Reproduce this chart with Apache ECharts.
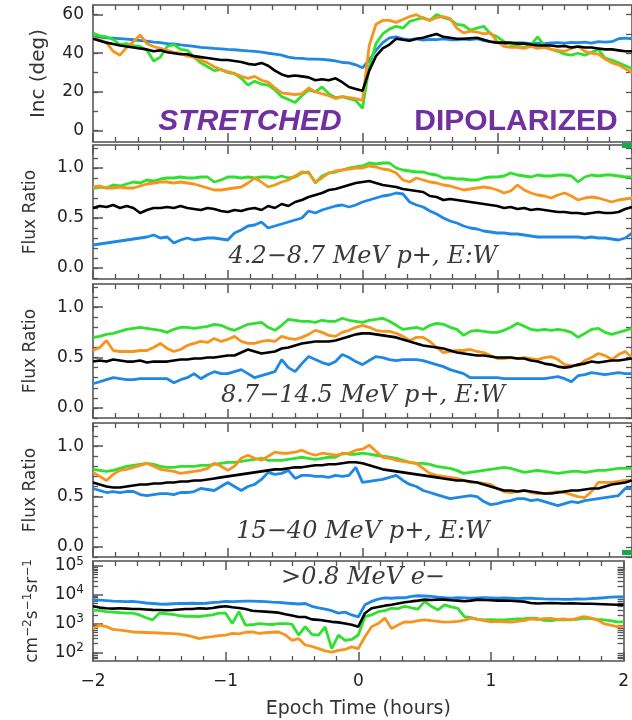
<!DOCTYPE html>
<html lang="en">
<head>
<meta charset="UTF-8">
<title>Epoch analysis</title>
<script src="https://cdn.jsdelivr.net/npm/echarts@6/dist/echarts.min.js"></script>
<style>
    html, body { margin: 0; padding: 0; background: #fff; }
    #container { width: 632px; height: 720px; }
</style>
</head>
<body>
<div id="container"></div>
<script>
// epoch time grid, hours, step 0.05
var hours = [];
for (var i = 0; i <= 80; i++) hours.push(+(-2 + i * 0.05).toFixed(2));

// inclination (deg)
var incBlue = [48.5,48.3,48.0,47.8,47.6,47.3,47.0,46.6,46.3,45.8, 45.5,45.0,44.8,44.3,44.0,43.6,43.0,42.8,42.5,42.3,
    42.0,41.8,41.5,41.2,41.0,40.6,40.0,39.5,39.0,38.0, 37.5,37.3,37.0,37.0,36.8,36.5,36.0,35.2,35.0,34.0,
    32.5,36.5,41.5,45.5,48.0,48.5,47.5,47.0,47.5,46.8, 47.2,47.0,47.5,47.0,47.0,47.3,47.0,47.5,46.5,46.0,
    45.5,45.0,45.0,45.5,45.3,45.0,45.2,45.0,45.3,45.5, 45.2,45.6,45.5,45.8,45.3,46.0,45.8,46.0,47.5,47.8, 47.5];
var incGreen = [50.5,49.0,48.5,47.0,44.5,45.0,44.0,43.5,41.5,36.0, 38.0,43.5,44.5,42.0,41.5,38.0,35.0,33.0,31.0,31.5,
    30.0,29.5,27.0,23.5,25.5,24.0,23.5,21.0,17.5,16.0, 14.5,18.0,21.0,20.0,22.5,19.0,17.0,17.5,16.5,15.5,
    11.5,33.0,45.0,50.0,52.5,54.0,53.0,56.5,57.5,58.5, 57.0,60.0,58.5,57.5,55.0,54.5,52.0,53.0,54.0,50.0,
    48.5,46.0,44.5,43.5,43.0,44.5,48.5,44.0,42.0,41.0, 39.5,39.0,40.0,39.0,40.5,42.0,37.5,36.5,35.0,33.5, 32.0];
var incOrange = [48.0,47.0,45.5,41.0,39.0,43.0,46.0,49.5,45.0,43.5, 42.5,41.5,40.5,40.0,38.5,38.0,36.5,35.0,33.0,31.5,
    30.5,29.5,28.0,27.0,28.0,26.0,25.0,22.0,19.5,19.0, 18.5,19.0,22.0,20.0,19.0,18.0,16.5,17.5,17.0,16.5,
    15.5,44.0,55.0,57.0,57.0,56.0,57.5,59.0,60.0,58.0, 57.0,58.5,59.0,58.0,53.0,50.5,51.5,51.0,50.0,50.5,
    46.0,43.5,43.0,43.0,42.5,43.5,42.5,43.0,42.0,41.5, 41.0,42.5,43.5,41.0,40.0,39.5,37.0,35.0,34.0,32.0, 30.0];
var incBlack = [47.5,46.5,45.5,44.8,44.0,43.5,43.0,42.5,42.0,41.0, 41.5,40.5,40.0,39.5,39.5,38.5,38.0,37.5,37.0,36.5,
    36.5,36.0,35.5,34.5,34.0,35.0,33.5,31.0,29.0,28.0, 28.5,28.0,27.5,26.0,26.5,26.0,27.0,25.0,22.5,21.5,
    20.5,31.0,38.5,42.5,44.5,47.5,47.0,46.5,47.5,48.0, 49.0,50.0,48.5,48.0,47.5,47.5,47.8,48.0,47.0,46.0,
    45.5,45.5,45.5,45.0,45.0,44.5,44.0,44.0,44.0,43.5, 43.8,43.0,43.5,43.0,43.0,42.5,42.0,42.0,41.5,41.0, 41.0];

// flux ratio E:W, 4.2-8.7 MeV p+
var lowBlue = [0.23,0.24,0.25,0.26,0.27,0.28,0.29,0.30,0.31,0.33, 0.30,0.31,0.25,0.28,0.30,0.28,0.29,0.30,0.30,0.29,
    0.28,0.35,0.38,0.42,0.43,0.46,0.40,0.42,0.44,0.46, 0.48,0.50,0.57,0.55,0.58,0.60,0.62,0.63,0.61,0.63,
    0.66,0.68,0.70,0.72,0.73,0.75,0.74,0.66,0.63,0.61, 0.57,0.54,0.50,0.47,0.45,0.42,0.40,0.39,0.37,0.36,
    0.35,0.35,0.34,0.34,0.33,0.32,0.31,0.31,0.31,0.31, 0.31,0.31,0.31,0.30,0.31,0.30,0.30,0.29,0.28,0.30, 0.35];
var lowGreen = [0.80,0.81,0.80,0.83,0.82,0.84,0.86,0.85,0.88,0.87, 0.89,0.90,0.90,0.91,0.90,0.90,0.91,0.91,0.86,0.88,
    0.91,0.91,0.90,0.91,0.90,0.91,0.91,0.90,0.92,0.90, 0.91,0.95,0.96,0.85,0.92,0.95,0.96,0.98,1.00,1.01,
    1.02,1.05,1.04,1.05,1.05,1.00,0.98,0.97,0.96,0.96, 0.94,0.93,0.90,0.90,0.89,0.89,0.88,0.88,0.90,0.91,
    0.91,0.92,0.95,0.93,0.92,0.91,0.93,0.92,0.92,0.93, 0.93,0.92,0.86,0.91,0.93,0.92,0.93,0.93,0.92,0.91, 0.91];
var lowOrange = [0.81,0.82,0.80,0.80,0.81,0.80,0.80,0.82,0.84,0.85, 0.86,0.86,0.85,0.86,0.85,0.84,0.82,0.80,0.78,0.78,
    0.79,0.80,0.81,0.85,0.90,0.86,0.81,0.83,0.86,0.88, 0.92,0.96,0.95,0.86,0.90,0.95,0.97,0.98,0.99,1.00,
    1.00,1.02,1.01,0.99,0.98,0.95,0.88,0.86,0.90,0.88, 0.86,0.85,0.83,0.82,0.80,0.78,0.79,0.80,0.81,0.80,
    0.78,0.75,0.77,0.83,0.78,0.75,0.73,0.72,0.70,0.73, 0.75,0.72,0.68,0.70,0.71,0.70,0.68,0.66,0.68,0.69, 0.70];
var lowBlack = [0.60,0.62,0.61,0.63,0.60,0.62,0.60,0.55,0.58,0.60, 0.60,0.61,0.60,0.62,0.60,0.59,0.58,0.60,0.59,0.57,
    0.56,0.58,0.57,0.59,0.60,0.58,0.62,0.60,0.64,0.62, 0.66,0.68,0.71,0.73,0.75,0.78,0.79,0.81,0.83,0.85,
    0.86,0.87,0.85,0.83,0.82,0.81,0.79,0.78,0.77,0.76, 0.72,0.71,0.68,0.69,0.68,0.67,0.66,0.65,0.64,0.63,
    0.62,0.60,0.61,0.59,0.60,0.58,0.59,0.58,0.57,0.56, 0.56,0.55,0.55,0.54,0.55,0.56,0.55,0.55,0.56,0.59, 0.61];

// 8.7-14.5 MeV p+
var midBlue = [0.24,0.26,0.28,0.30,0.29,0.28,0.28,0.29,0.29,0.29, 0.29,0.29,0.25,0.28,0.30,0.34,0.29,0.33,0.36,0.34,
    0.34,0.36,0.38,0.34,0.30,0.32,0.34,0.36,0.48,0.40, 0.36,0.44,0.51,0.48,0.45,0.43,0.46,0.53,0.50,0.46,
    0.43,0.47,0.51,0.50,0.48,0.47,0.48,0.48,0.48,0.47, 0.45,0.43,0.41,0.38,0.36,0.34,0.30,0.30,0.30,0.30,
    0.30,0.29,0.29,0.29,0.29,0.29,0.29,0.29,0.30,0.31, 0.29,0.26,0.32,0.33,0.35,0.34,0.33,0.34,0.35,0.34, 0.34];
var midGreen = [0.70,0.71,0.73,0.74,0.76,0.78,0.79,0.80,0.79,0.78, 0.77,0.75,0.78,0.80,0.80,0.79,0.80,0.81,0.83,0.82,
    0.79,0.77,0.80,0.83,0.84,0.85,0.80,0.77,0.82,0.88, 0.87,0.86,0.86,0.85,0.87,0.86,0.86,0.89,0.87,0.86,
    0.85,0.87,0.88,0.89,0.86,0.82,0.78,0.79,0.80,0.78, 0.82,0.84,0.83,0.80,0.78,0.72,0.76,0.77,0.76,0.75,
    0.75,0.77,0.80,0.84,0.81,0.78,0.77,0.78,0.77,0.78, 0.77,0.75,0.70,0.74,0.78,0.79,0.75,0.73,0.75,0.77, 0.79];
var midOrange = [0.57,0.60,0.67,0.57,0.56,0.56,0.56,0.57,0.57,0.60, 0.64,0.59,0.56,0.58,0.62,0.64,0.66,0.65,0.69,0.66,
    0.68,0.71,0.66,0.64,0.64,0.66,0.67,0.66,0.71,0.69, 0.68,0.70,0.73,0.77,0.75,0.72,0.71,0.75,0.77,0.80,
    0.82,0.80,0.77,0.76,0.76,0.74,0.71,0.67,0.70,0.70, 0.66,0.60,0.55,0.56,0.57,0.57,0.58,0.56,0.55,0.52,
    0.49,0.49,0.50,0.49,0.50,0.49,0.48,0.50,0.51,0.48, 0.43,0.42,0.42,0.47,0.50,0.54,0.52,0.48,0.53,0.56, 0.50];
var midBlack = [0.46,0.47,0.46,0.48,0.47,0.46,0.46,0.47,0.45,0.46, 0.46,0.46,0.47,0.48,0.48,0.49,0.49,0.50,0.50,0.51,
    0.52,0.52,0.55,0.58,0.56,0.54,0.55,0.56,0.59,0.60, 0.62,0.64,0.65,0.66,0.66,0.66,0.67,0.69,0.71,0.73,
    0.74,0.74,0.73,0.72,0.71,0.70,0.68,0.66,0.64,0.62, 0.61,0.60,0.59,0.57,0.55,0.54,0.53,0.52,0.52,0.51,
    0.50,0.50,0.50,0.49,0.49,0.47,0.46,0.44,0.43,0.41, 0.40,0.41,0.43,0.44,0.46,0.45,0.46,0.47,0.47,0.48, 0.49];

// 15-40 MeV p+
var highBlue = [0.58,0.56,0.54,0.55,0.54,0.55,0.55,0.52,0.51,0.52, 0.53,0.53,0.52,0.54,0.54,0.55,0.58,0.57,0.56,0.60,
    0.64,0.60,0.56,0.60,0.62,0.67,0.74,0.72,0.73,0.76, 0.68,0.71,0.71,0.70,0.70,0.69,0.71,0.70,0.71,0.79,
    0.64,0.65,0.66,0.67,0.69,0.71,0.66,0.62,0.60,0.56, 0.54,0.52,0.50,0.48,0.49,0.50,0.51,0.50,0.45,0.42,
    0.43,0.45,0.46,0.48,0.48,0.46,0.47,0.45,0.43,0.41, 0.43,0.45,0.44,0.46,0.47,0.48,0.49,0.50,0.51,0.58, 0.58];
var highGreen = [0.77,0.76,0.75,0.76,0.78,0.80,0.81,0.82,0.83,0.82, 0.80,0.79,0.79,0.80,0.80,0.80,0.81,0.81,0.82,0.83,
    0.84,0.84,0.85,0.86,0.87,0.88,0.86,0.86,0.86,0.87, 0.88,0.89,0.88,0.87,0.88,0.89,0.89,0.93,0.92,0.92,
    0.93,0.92,0.91,0.90,0.89,0.88,0.86,0.84,0.83,0.83, 0.82,0.80,0.79,0.78,0.76,0.73,0.74,0.75,0.76,0.77,
    0.78,0.79,0.78,0.76,0.74,0.75,0.76,0.75,0.74,0.73, 0.74,0.75,0.75,0.74,0.75,0.76,0.76,0.77,0.78,0.78, 0.78];
var highOrange = [0.74,0.70,0.66,0.72,0.76,0.77,0.79,0.81,0.83,0.80, 0.77,0.76,0.75,0.73,0.74,0.75,0.76,0.78,0.83,0.80,
    0.76,0.80,0.88,0.91,0.88,0.86,0.90,0.94,0.93,0.93, 0.94,0.96,0.93,0.91,0.93,0.92,0.91,0.92,0.93,0.96,
    0.97,1.01,0.95,0.89,0.88,0.86,0.85,0.84,0.83,0.78, 0.73,0.71,0.70,0.69,0.68,0.66,0.64,0.64,0.63,0.62,
    0.58,0.55,0.54,0.55,0.56,0.54,0.53,0.53,0.54,0.55, 0.54,0.52,0.50,0.49,0.55,0.64,0.64,0.64,0.65,0.66, 0.66];
var highBlack = [0.64,0.62,0.60,0.59,0.59,0.60,0.61,0.62,0.62,0.63, 0.63,0.64,0.64,0.65,0.65,0.66,0.66,0.67,0.68,0.69,
    0.70,0.71,0.72,0.73,0.74,0.75,0.76,0.77,0.77,0.78, 0.79,0.79,0.80,0.81,0.81,0.82,0.82,0.83,0.84,0.84,
    0.83,0.81,0.79,0.77,0.76,0.75,0.74,0.73,0.72,0.71, 0.70,0.69,0.68,0.67,0.66,0.66,0.65,0.64,0.62,0.60,
    0.58,0.56,0.56,0.55,0.56,0.55,0.54,0.53,0.53,0.54, 0.55,0.56,0.56,0.57,0.58,0.58,0.60,0.62,0.63,0.64, 0.66];

// >0.8 MeV e- flux, cm^-2 s^-1 sr^-1
var eBlue = [6600,6500,6300,6000,5900,5800,5900,5600,5200,5000, 4800,4700,4900,5000,5000,5100,5000,5100,5400,5600,
    5900,5800,5900,6000,6000,5900,5800,5600,5500,5200, 5000,4800,5000,4000,3500,3200,2800,2300,2500,2000,
    1700,4500,5900,7100,7800,7600,7900,7900,8900,9300, 9100,8900,8300,7900,7600,7900,7800,7600,7800,7900,
    7800,7600,7800,7600,7400,7600,7600,7400,7200,7100, 7100,6900,6900,7200,7100,7400,7600,7900,8300,8500, 8500];
var eGreen = [2950,2800,2600,2500,2400,2300,2300,2000,1600,1350, 2300,2200,2100,1900,1800,1800,1740,1900,2000,2300,
    2300,1000,2600,890,910,1000,950,930,1000,1000, 950,400,780,420,400,760,135,400,260,280,
    400,1740,2000,2600,2800,3400,3300,4000,3550,3200, 5900,4000,3000,4500,3800,3400,1740,1600,1400,1350,
    1380,1350,1350,1400,1450,1480,1550,1500,1300,1260, 1350,1380,1350,1400,1550,1500,1400,1350,1260,1150, 1150];
var eOrange = [680,890,790,630,590,560,510,500,490,480, 470,460,450,430,400,350,300,330,350,380,
    400,460,440,500,510,460,480,500,510,400, 260,300,180,160,135,112,102,117,126,155,
    135,350,780,1000,1550,680,890,1150,1120,1260, 1350,1260,1200,1120,1150,1200,1320,1550,1400,1260,
    1150,1200,1150,1120,1200,1260,1450,1380,1480,1510, 1400,1450,1350,1510,1740,1580,1350,1000,890,780, 780];
var eBlack = [4000,3600,3400,3300,3400,3300,3200,3200,3100,3000, 2950,2900,2950,3100,3200,3200,3400,3300,3500,3800,
    4000,3700,3500,3200,2800,2700,2600,2500,2400,2100, 1900,1700,1700,1400,1350,1250,1150,1100,1000,910,
    780,2300,3400,3800,4200,4500,5000,5500,5900,6300, 6800,6600,6800,6800,6500,6300,6000,6300,6800,6600,
    6500,6300,6300,6200,6000,5800,5200,5000,5100,5200, 5100,5000,5100,5000,4900,4900,4800,4700,4600,4500, 4500];

// tick labels
var incTicks = [0, 20, 40, 60];
var incMinor = [0, 10, 20, 30, 40, 50, 60];
var ratioTicks = [0, 0.5, 1.0];
var ratioMinor = [-0.1, 0, 0.1, 0.2, 0.3, 0.4, 0.5, 0.6, 0.7, 0.8, 0.9, 1.0, 1.1, 1.2];
var fluxTicks = [100, 1000, 10000, 100000];
var fluxMinor = [60, 70, 80, 90, 200, 300, 400, 500, 600, 700, 800, 900,
    2000, 3000, 4000, 5000, 6000, 7000, 8000, 9000, 20000, 30000, 40000, 50000, 60000, 70000, 80000, 90000];

var colors = ['#1e88e5', '#2fe02f', '#f7941d', '#000000'];
var gray = '#7a7a7a';
var tickGray = '#555555';

var panels = [
    {top: 5, height: 137, min: -6, max: 65, ticks: incTicks, minor: incMinor, name: 'Inc (deg)', nameSize: 20, gap: 44,
        lines: [incBlue, incGreen, incOrange, incBlack]},
    {top: 145, height: 134, min: -0.11, max: 1.23, ticks: ratioTicks, minor: ratioMinor, name: 'Flux Ratio', nameSize: 17, gap: 54,
        lines: [lowBlue, lowGreen, lowOrange, lowBlack], label: '4.2\u22128.7 MeV p+, E:W', ly: 257},
    {top: 284, height: 134, min: -0.1, max: 1.23, ticks: ratioTicks, minor: ratioMinor, name: 'Flux Ratio', nameSize: 17, gap: 54,
        lines: [midBlue, midGreen, midOrange, midBlack], label: '8.7\u221214.5 MeV p+, E:W', ly: 396},
    {top: 423, height: 134, min: -0.1, max: 1.23, ticks: ratioTicks, minor: ratioMinor, name: 'Flux Ratio', nameSize: 17, gap: 54,
        lines: [highBlue, highGreen, highOrange, highBlack], label: '15\u221240 MeV p+, E:W', ly: 532},
    {top: 561, height: 100, min: 50, max: 150000, ticks: fluxTicks, minor: fluxMinor, log: true,
        name: '{n|cm}{s|\u22122}{n|s}{s|\u22121}{n|sr}{s|\u22121}', nameSize: 17, gap: 50,
        lines: [eBlue, eGreen, eOrange, eBlack], label: '>0.8 MeV e\u2212', ly: 578}
];

var myChart = echarts.init(document.getElementById('container'));

var grids = [], xAxes = [], yAxes = [], series = [], graphics = [];

panels.forEach(function (p, k) {
    var last = k === panels.length - 1;
    grids.push({left: 93, right: -1, top: p.top, height: p.height});

    ['bottom', 'top'].forEach(function (pos) {
        xAxes.push({
            type: 'value', gridIndex: k, position: pos, min: -2, max: 2, interval: 1,
            axisLine: {show: true, onZero: false, lineStyle: {color: gray, width: 2}},
            axisTick: {show: true, inside: true, length: 9, lineStyle: {color: tickGray, width: 1.5}},
            minorTick: {show: true, splitNumber: 6, length: 5, lineStyle: {color: tickGray, width: 1.3}},
            splitLine: {show: false},
            axisLabel: {
                show: last && pos === 'bottom', margin: 12, color: '#222',
                fontFamily: 'DejaVu Sans', fontSize: 17,
                formatter: function (v) { return String(v).replace('-', '\u2212'); }
            },
            name: last && pos === 'bottom' ? 'Epoch Time (hours)' : '',
            nameLocation: 'middle', nameGap: 39,
            nameTextStyle: {fontFamily: 'DejaVu Sans', fontSize: 19, color: '#333'}
        });
    });

    var yType = p.log ? 'log' : 'value';
    // labelled axis with major ticks
    yAxes.push({
        type: yType, gridIndex: k, position: 'left', min: p.min, max: p.max,
        axisLine: {show: true, onZero: false, lineStyle: {color: gray, width: 2}},
        axisTick: {show: true, inside: true, length: 10, customValues: p.ticks, lineStyle: {color: tickGray, width: 1.5}},
        splitLine: {show: false},
        axisLabel: {
            customValues: p.ticks, margin: 9, color: '#222', fontFamily: 'DejaVu Sans', fontSize: 17,
            formatter: p.log
                ? function (v) { return '{b|10}{e|' + Math.round(Math.log10(v)) + '}'; }
                : (p.ticks === incTicks ? function (v) { return String(v); } : function (v) { return v.toFixed(1); }),
            rich: {b: {fontFamily: 'DejaVu Sans', fontSize: 17, color: '#222'},
                   e: {fontFamily: 'DejaVu Sans', fontSize: 12, color: '#222', padding: [0, 0, 9, 0]}}
        },
        name: p.name, nameLocation: 'middle', nameGap: p.gap,
        nameTextStyle: {fontFamily: 'DejaVu Sans', fontSize: p.nameSize, color: '#333',
            rich: {n: {fontFamily: 'DejaVu Sans', fontSize: 17, color: '#333'},
                   s: {fontFamily: 'DejaVu Sans', fontSize: 12, color: '#333', padding: [0, 0, 9, 0]}}}
    });
    // minor ticks
    yAxes.push({
        type: yType, gridIndex: k, position: 'left', min: p.min, max: p.max,
        axisLine: {show: false, onZero: false},
        axisTick: {show: true, inside: true, length: 5, customValues: p.minor, lineStyle: {color: tickGray, width: 1.3}},
        axisLabel: {show: false, customValues: p.minor},
        splitLine: {show: false}
    });
    // right side of the box
    yAxes.push({
        type: yType, gridIndex: k, position: 'right', min: p.min, max: p.max,
        axisLine: {show: true, onZero: false, lineStyle: {color: gray, width: 2}},
        axisTick: {show: true, inside: true, length: 6, customValues: p.minor, lineStyle: {color: tickGray, width: 1.3}},
        axisLabel: {show: false, customValues: p.minor},
        splitLine: {show: false}
    });

    p.lines.forEach(function (vals, j) {
        series.push({
            type: 'line', xAxisIndex: 2 * k, yAxisIndex: 3 * k,
            data: hours.map(function (h, n) { return [h, vals[n]]; }),
            showSymbol: false, symbol: 'none', silent: true,
            lineStyle: {color: colors[j], width: j === 3 ? 2.6 : 2.8},
            z: 2 + j
        });
    });

    if (p.label) {
        graphics.push({
            type: 'text', x: 363, y: p.ly, z: 100,
            style: {text: p.label, fontFamily: 'DejaVu Serif', fontStyle: 'italic', fontSize: 24,
                fill: '#3a3a3a', align: 'center', verticalAlign: 'middle'}
        });
    }
});

graphics.push(
    {type: 'text', x: 250, y: 122, z: 100,
        style: {text: 'STRETCHED', fontFamily: 'Liberation Sans', fontWeight: 'bold', fontStyle: 'italic',
            fontSize: 30, fill: '#7030a0', align: 'center', verticalAlign: 'middle'}},
    {type: 'text', x: 516, y: 122, z: 100,
        style: {text: 'DIPOLARIZED', fontFamily: 'Liberation Sans', fontWeight: 'bold',
            fontSize: 30, fill: '#7030a0', align: 'center', verticalAlign: 'middle'}},
    {type: 'rect', shape: {x: 622, y: 143, width: 10, height: 5}, style: {fill: '#19a84a'}, z: 100},
    {type: 'rect', shape: {x: 622, y: 550, width: 10, height: 5}, style: {fill: '#19a84a'}, z: 100}
);

var option = {
    animation: false,
    backgroundColor: '#fff',
    grid: grids,
    xAxis: xAxes,
    yAxis: yAxes,
    series: series,
    graphic: graphics
};
myChart.setOption(option);
</script>
</body>
</html>
